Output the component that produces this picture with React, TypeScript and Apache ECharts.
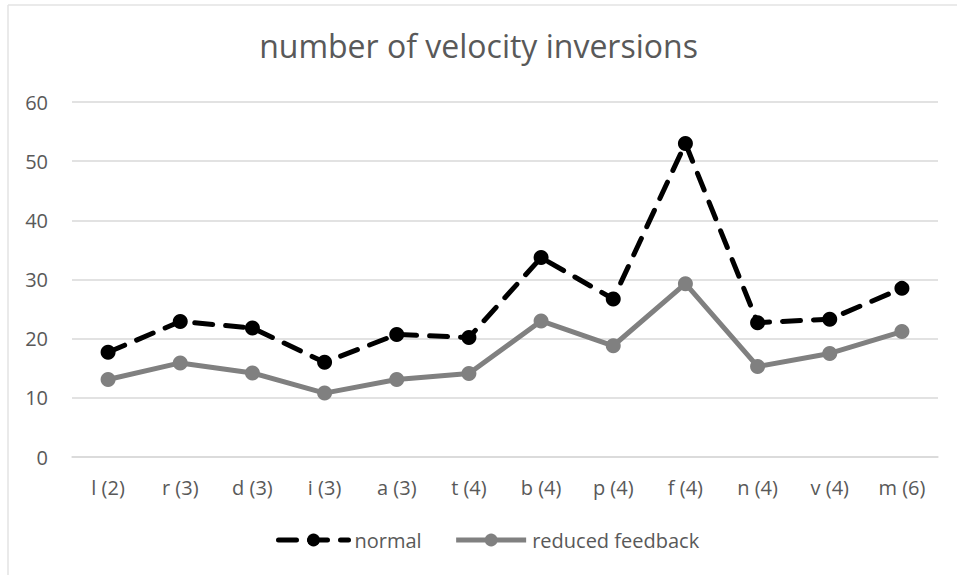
import React, { useEffect, useRef } from "react";
import * as echarts from "echarts";

const categories = ["l (2)", "r (3)", "d (3)", "i (3)", "a (3)", "t (4)", "b (4)", "p (4)", "f (4)", "n (4)", "v (4)", "m (6)"];
const normal = [17.7, 22.9, 21.8, 16.0, 20.7, 20.2, 33.7, 26.7, 53.0, 22.7, 23.3, 28.5];
const reduced = [13.1, 15.9, 14.2, 10.8, 13.1, 14.1, 23.0, 18.8, 29.3, 15.3, 17.5, 21.2];
const yTicks = { min: 0, max: 60, interval: 10 };

const FONT = "Open Sans, Lato, sans-serif";
const TEXT = "#595959";

export default function App() {
  const ref = useRef<HTMLDivElement>(null);
  useEffect(() => {
    if (!ref.current) return;
    const chart = echarts.init(ref.current, undefined, { renderer: "svg" });
    chart.setOption({
      animation: false,
      backgroundColor: "#ffffff",
      title: {
        text: "number of velocity inversions",
        left: "center",
        top: 24,
        textStyle: { fontFamily: FONT, fontSize: 32, fontWeight: "normal", color: TEXT },
      },
      grid: { left: 72, right: 19, top: 102, bottom: 118 },
      xAxis: {
        type: "category",
        data: categories,
        axisLine: { show: true, lineStyle: { color: "#d9d9d9", width: 1.5 } },
        axisTick: { show: false },
        axisLabel: { fontFamily: FONT, fontSize: 20, color: TEXT, margin: 20 },
      },
      yAxis: {
        type: "value",
        min: yTicks.min,
        max: yTicks.max,
        interval: yTicks.interval,
        axisLine: { show: false },
        axisTick: { show: false },
        axisLabel: { fontFamily: FONT, fontSize: 20, color: TEXT, margin: 24 },
        splitLine: { lineStyle: { color: "#d9d9d9", width: 1.5 } },
      },
      legend: {
        bottom: 20,
        left: 271,
        itemWidth: 70,
        itemHeight: 16,
        itemGap: 32,
        textStyle: { fontFamily: FONT, fontSize: 20, color: TEXT, padding: [0, 0, 0, 1] },
        data: [
          { name: "normal", lineStyle: { width: 5 } },
          { name: "reduced feedback", lineStyle: { width: 5 } },
        ],
      },
      graphic: [
        { type: "line", shape: { x1: 8, y1: 5, x2: 957, y2: 5 }, style: { stroke: "#e3e3e3", lineWidth: 1.5 } },
        { type: "line", shape: { x1: 8, y1: 5, x2: 8, y2: 575 }, style: { stroke: "#e3e3e3", lineWidth: 1.5 } },
      ],
      series: [
        {
          name: "normal",
          type: "line",
          data: normal,
          symbol: "circle",
          symbolSize: 15,
          itemStyle: { color: "#000000" },
          lineStyle: { color: "#000000", width: 5, type: [18, 13], cap: "round" },
          z: 3,
        },
        {
          name: "reduced feedback",
          type: "line",
          data: reduced,
          symbol: "circle",
          symbolSize: 15,
          itemStyle: { color: "#808080" },
          lineStyle: { color: "#808080", width: 5 },
          z: 2,
        },
      ],
    });
    return () => chart.dispose();
  }, []);
  return <div ref={ref} style={{ position: "fixed", left: 0, top: 0, width: 957, height: 575 }} />;
}
